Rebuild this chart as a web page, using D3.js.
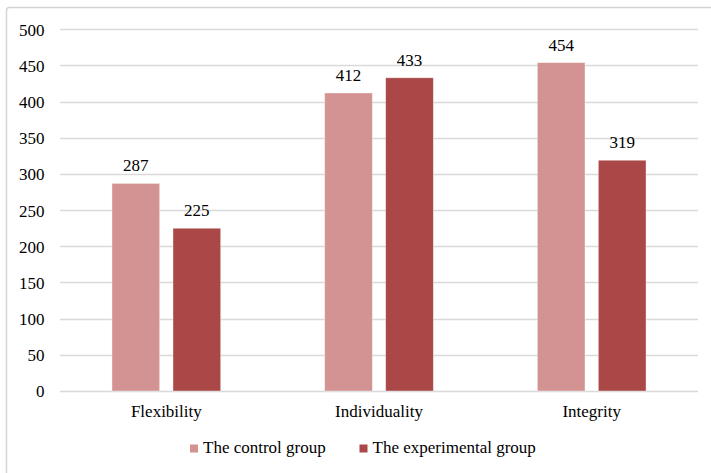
<!DOCTYPE html>
<html>
<head>
<meta charset="utf-8">
<script src="https://cdn.jsdelivr.net/npm/d3@7"></script>
</head>
<body style="margin:0;background:#fff">
<svg id="chart" width="711" height="473" style="display:block"></svg>
<script>
const categories = ["Flexibility", "Individuality", "Integrity"];
const seriesNames = ["The control group", "The experimental group"];
const controlValues = [287, 412, 454];
const experimentalValues = [225, 433, 319];
const yTicks = [0, 50, 100, 150, 200, 250, 300, 350, 400, 450, 500];
const seriesColors = ["#D39392", "#A94846"];

const seriesValues = [controlValues, experimentalValues];
const svg = d3.select("#chart");

// outer frame of the chart area
svg.append("rect")
  .attr("x", 6.5).attr("y", 7.5)
  .attr("width", 720).attr("height", 480)
  .attr("rx", 3)
  .attr("fill", "none")
  .attr("stroke", "#d4d4d4")
  .attr("stroke-width", 1.5);

const plot = { left: 60, right: 698, top: 29.3, bottom: 391 };

const x0 = d3.scaleBand().domain(categories).range([plot.left, plot.right]).padding(0);
const x1 = d3.scaleBand().domain(seriesNames).range([0, x0.bandwidth()])
  .paddingInner(0.218).paddingOuter(0.852);
const y = d3.scaleLinear().domain([0, 500]).range([plot.bottom, plot.top]);

// horizontal gridlines
svg.append("g").selectAll("line").data(yTicks).join("line")
  .attr("x1", plot.left).attr("x2", plot.right)
  .attr("y1", d => Math.round(y(d)) + 0.5).attr("y2", d => Math.round(y(d)) + 0.5)
  .attr("stroke", "#d9d9d9").attr("stroke-width", 1.3);

// y axis labels
const yAxis = d3.axisLeft(y).tickValues(yTicks).tickSize(0).tickPadding(0);
const gy = svg.append("g").attr("transform", "translate(44.5,0)").call(yAxis);
gy.select(".domain").remove();
gy.selectAll("text").attr("dy", "0.35em");

// bars
const groups = svg.append("g").selectAll("g").data(categories).join("g")
  .attr("transform", d => `translate(${x0(d)},0)`);

const cells = (c, i) => seriesNames.map((s, k) => ({ s, k, v: seriesValues[k][i] }));

groups.selectAll("rect")
  .data(cells)
  .join("rect")
  .attr("x", d => x1(d.s))
  .attr("width", x1.bandwidth())
  .attr("y", d => y(d.v))
  .attr("height", d => y(0) - y(d.v))
  .attr("fill", d => seriesColors[d.k])
  .attr("stroke", "rgba(255,255,255,0.5)")
  .attr("stroke-width", 0.8);

// value labels
groups.selectAll("text.val")
  .data(cells)
  .join("text")
  .attr("class", "val")
  .attr("x", d => x1(d.s) + x1.bandwidth() / 2)
  .attr("y", d => y(d.v) - 12)
  .attr("text-anchor", "middle")
  .text(d => d.v);

// category labels
const xAxis = d3.axisBottom(x0).tickSize(0).tickPadding(0);
const gx = svg.append("g").attr("transform", "translate(0,417)").call(xAxis);
gx.select(".domain").remove();
gx.selectAll("text").attr("dy", 0);

// legend
const legendItems = [
  { name: seriesNames[0], color: seriesColors[0], x: 190 },
  { name: seriesNames[1], color: seriesColors[1], x: 359.5 }
];
const lg = svg.append("g").selectAll("g").data(legendItems).join("g")
  .attr("transform", d => `translate(${d.x},0)`);
lg.append("rect").attr("x", 0).attr("y", 444.5).attr("width", 8).attr("height", 8)
  .attr("fill", d => d.color);
lg.append("text").attr("x", 13).attr("y", 453).text(d => d.name);

// every label uses the same serif face
svg.selectAll("g").attr("font-family", null).attr("font-size", null);
svg.selectAll("text")
  .attr("font-family", "Liberation Serif")
  .attr("font-size", 17)
  .attr("fill", "#000");
</script>
</body>
</html>
